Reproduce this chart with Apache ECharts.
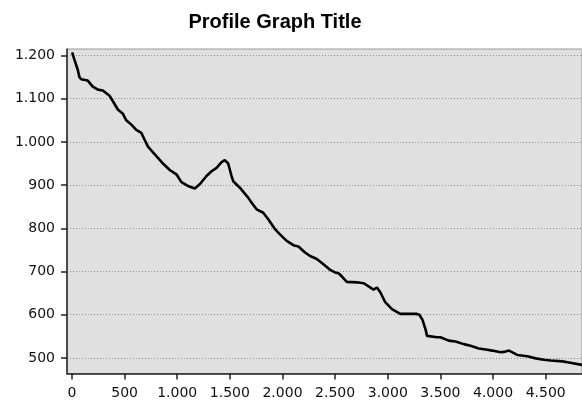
<!DOCTYPE html>
<html>
<head>
<meta charset="utf-8">
<script src="https://cdn.jsdelivr.net/npm/echarts@6/dist/echarts.min.js"></script>
<style>
html,body{margin:0;padding:0;background:#fff;}
#c{width:582px;height:408px;}
</style>
</head>
<body>
<div id="c"></div>
<script>
const titleText = "Profile Graph Title";
const xTicks = [0,500,1000,1500,2000,2500,3000,3500,4000,4500];
const yTicks = [500,600,700,800,900,1000,1100,1200];
const distance = [2,24,55,71,88,150,198,246,293,357,389,436,484,516,564,611,659,690,722,802,865,929,992,1040,1102,1167,1214,1278,1326,1374,1421,1452,1484,1516,1532,1595,1674,1707,1754,1817,1865,1929,1976,2040,2103,2151,2214,2262,2326,2389,2452,2500,2532,2563,2611,2707,2770,2865,2881,2897,2929,2976,3040,3119,3246,3270,3300,3330,3360,3373,3468,3500,3579,3643,3722,3786,3865,3945,3992,4072,4103,4151,4230,4326,4405,4484,4548,4659,4707,4845];
const elevation = [1207,1190,1167,1150,1145,1142,1128,1121,1119,1107,1094,1075,1065,1050,1040,1028,1021,1005,989,967,950,935,925,907,898,892,902,921,932,940,953,958,950,921,909,894,871,859,844,836,821,798,786,771,761,758,744,736,729,717,704,698,696,689,676,675,673,658,658,663,652,629,613,602,602,602,600,588,565,551,548,548,540,538,532,528,522,519,517,513,514,517,507,504,499,496,494,492,490,484,483];

function fmt(v){
  return String(Math.round(v)).replace(/\B(?=(\d{3})+(?!\d))/g, '.');
}

const chart = echarts.init(document.getElementById('c'), null, {renderer:'canvas'});
const data = distance.map((d,i)=>[d, elevation[i]]);
chart.setOption({
  animation:false,
  backgroundColor:'#ffffff',
  title:{
    text:titleText,
    left:270, top:7, textAlign:'center',
    textStyle:{fontFamily:'Liberation Sans', fontWeight:'bold', fontSize:20, color:'#000'}
  },
  grid:{
    left:67, right:0, top:49, bottom:34.5,
    show:true, backgroundColor:'#e0e0e0', borderColor:'#9a9a9a', borderWidth:1
  },
  xAxis:{
    type:'value', min:-47, max:4845,
    axisLine:{show:true, onZero:false, lineStyle:{color:'#222', width:1.5}},
    axisTick:{show:true, length:6, customValues:xTicks, lineStyle:{color:'#222', width:1.5}},
    axisLabel:{customValues:xTicks, formatter:fmt, margin:13,
      fontFamily:'DejaVu Sans', fontSize:14, color:'#111'},
    splitLine:{show:false}
  },
  yAxis:{
    type:'value', min:464, max:1215,
    axisLine:{show:true, onZero:false, lineStyle:{color:'#222', width:1.5}},
    axisTick:{show:true, length:6, customValues:yTicks, lineStyle:{color:'#222', width:1.5}},
    axisLabel:{customValues:yTicks, formatter:fmt, margin:12,
      fontFamily:'DejaVu Sans', fontSize:14, color:'#111'},
    splitLine:{show:true, lineStyle:{color:'#8a8a8a', width:1, type:[1,2]}}
  },
  series:[{
    type:'line', data:data, showSymbol:false, symbol:'none',
    lineStyle:{color:'#000', width:2.6}, clip:true
  }]
});
</script>
</body>
</html>
